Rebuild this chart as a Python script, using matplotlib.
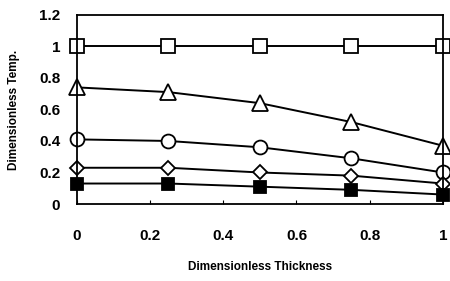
import matplotlib.pyplot as plt

thickness = [0, 0.25, 0.5, 0.75, 1.0]
temp_square = [1.0, 1.0, 1.0, 1.0, 1.0]
temp_triangle = [0.74, 0.71, 0.64, 0.52, 0.37]
temp_circle = [0.41, 0.40, 0.36, 0.29, 0.20]
temp_diamond = [0.23, 0.23, 0.20, 0.18, 0.13]
temp_filled = [0.13, 0.13, 0.11, 0.09, 0.06]

xticks = [0, 0.2, 0.4, 0.6, 0.8, 1.0]
xtick_labels = ["0", "0.2", "0.4", "0.6", "0.8", "1"]
yticks = [0, 0.2, 0.4, 0.6, 0.8, 1.0, 1.2]
ytick_labels = ["0", "0.2", "0.4", "0.6", "0.8", "1", "1.2"]


def main():
    plt.rcParams['font.family'] = ['Liberation Sans', 'DejaVu Sans']
    fig = plt.figure(figsize=(4.5, 2.81), dpi=100)
    ax = fig.add_axes([0.171, 0.274, 0.813, 0.673])

    style = dict(color='black', linewidth=1.4, markeredgecolor='black',
                 markeredgewidth=1.3, clip_on=False)
    ax.plot(thickness, temp_square, marker='s', markersize=10,
            markerfacecolor='white', **style)
    ax.plot(thickness, temp_triangle, marker='^', markersize=11,
            markerfacecolor='white', **style)
    ax.plot(thickness, temp_circle, marker='o', markersize=10,
            markerfacecolor='white', **style)
    ax.plot(thickness, temp_diamond, marker='D', markersize=7,
            markerfacecolor='white', **style)
    ax.plot(thickness, temp_filled, marker='s', markersize=9,
            markerfacecolor='black', **style)

    ax.set_xlim(0, 1)
    ax.set_ylim(0, 1.2)
    ax.set_xticks(xticks)
    ax.set_xticklabels(xtick_labels, fontsize=11, fontweight='bold')
    ax.set_yticks(yticks)
    ax.set_yticklabels(ytick_labels, fontsize=11, fontweight='bold')
    ax.tick_params(axis='x', direction='in', length=3, pad=18)
    ax.tick_params(axis='y', length=0, pad=12)
    for s in ax.spines.values():
        s.set_linewidth(1.3)

    ax.set_xlabel("Dimensionless Thickness", fontsize=8.5, fontweight='bold',
                  labelpad=13)
    ax.set_ylabel("Dimensionless Temp.", fontsize=8.5, fontweight='bold',
                  labelpad=14)

    fig.savefig("out.png", dpi=100)


if __name__ == '__main__':
    main()
